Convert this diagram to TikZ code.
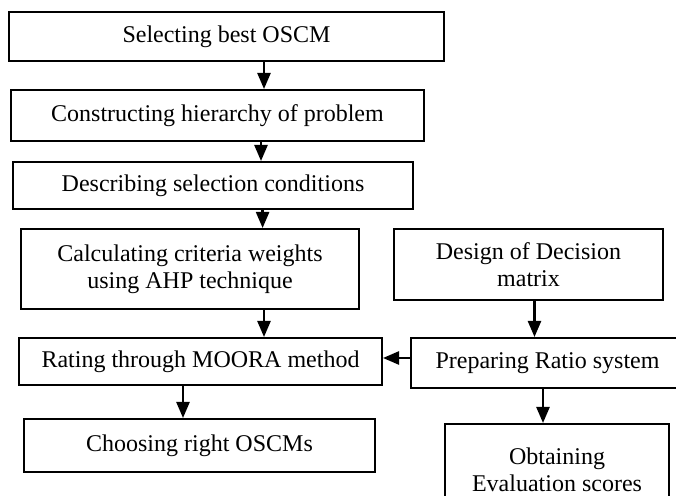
\documentclass[tikz,border=0pt]{standalone}
\usepackage{fontspec}
\setmainfont{Liberation Serif}
\usetikzlibrary{arrows.meta}

\begin{document}
\begin{tikzpicture}[
    x=0.5pt, y=-0.5pt,
    font=\fontsize{12}{13.5}\selectfont,
    box/.style={draw, line width=1pt, anchor=north west, align=center, inner sep=0pt},
    arr/.style={line width=1.2pt, -{Triangle[length=8pt,width=6.5pt]}},
  ]
    \useasboundingbox (0,0) rectangle (676,496);
    % main chain on the left
    \node[box, minimum width=217.5pt, minimum height=24.5pt] (sel) at (8,11) {Selecting best OSCM};
    \node[box, minimum width=206.5pt, minimum height=25.5pt] (hier) at (10,89) {Constructing hierarchy of problem};
    \node[box, minimum width=200pt, minimum height=23.5pt] (cond) at (12,161) {Describing selection conditions};
    \node[box, minimum width=169pt, minimum height=40pt] (ahp) at (20,228) {Calculating criteria weights\\using AHP technique};
    \node[box, minimum width=181.5pt, minimum height=23.5pt] (moora) at (18,337) {Rating through MOORA method};
    \node[box, minimum width=175.5pt, minimum height=26.5pt] (choose) at (23,418) {Choosing right OSCMs};
    % MOORA branch on the right
    \node[box, minimum width=134.5pt, minimum height=35.5pt] (dmat) at (393,228) {Design of Decision\\matrix};
    \node[box, minimum width=136.5pt, minimum height=25pt] (ratio) at (410,337) {Preparing Ratio system};
    \node[box, minimum width=112pt, minimum height=46pt] (score) at (444,423) {Obtaining\\Evaluation scores};

    \draw[arr] ([xshift=18.75pt]sel.south) -- ([xshift=18.75pt]sel.south |- hier.north);
    \draw[arr] ([xshift=21.75pt]hier.south) -- ([xshift=21.75pt]hier.south |- cond.north);
    \draw[arr] ([xshift=24.8pt]cond.south) -- ([xshift=24.8pt]cond.south |- ahp.north);
    \draw[arr] ([xshift=37pt]ahp.south) -- ([xshift=37pt]ahp.south |- moora.north);
    \draw[arr] ([xshift=-8.75pt]moora.south) -- ([xshift=-8.75pt]moora.south |- choose.north);
    \draw[arr] ([xshift=3pt]dmat.south) -- ([xshift=3pt]dmat.south |- ratio.north);
    \draw[arr] ([yshift=2.5pt]ratio.west) -- ([yshift=2.5pt]ratio.west -| moora.east);
    \draw[arr] ([xshift=-2.25pt]ratio.south) -- ([xshift=-2.25pt]ratio.south |- score.north);
  \end{tikzpicture}
\end{document}
